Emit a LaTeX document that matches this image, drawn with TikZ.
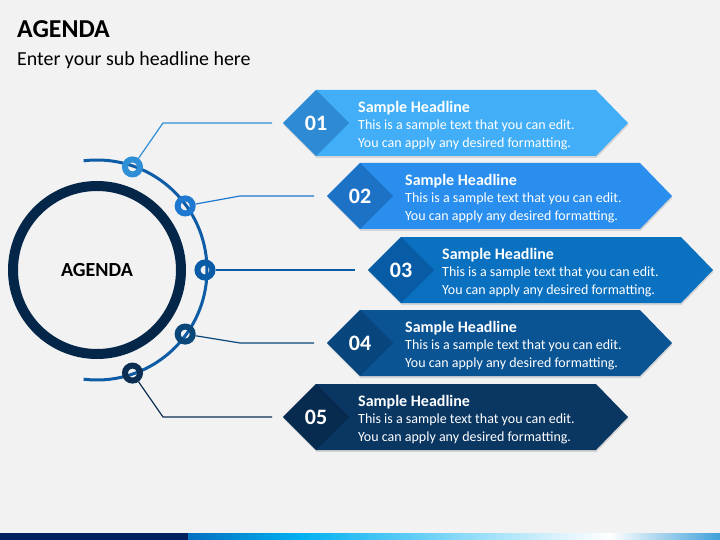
\documentclass[tikz,border=0pt]{standalone}
\usepackage{fontspec}
\setmainfont{Carlito}
\usetikzlibrary{shapes.geometric,shadows}
\definecolor{bgc}{HTML}{F2F2F2}
\definecolor{navy}{HTML}{032649}
\definecolor{arcc}{HTML}{0E5CA6}
\definecolor{ca}{HTML}{42AEF7}\definecolor{da}{HTML}{2E8BD3}\definecolor{ra}{HTML}{2E8FD6}
\definecolor{cb}{HTML}{2A8EEE}\definecolor{db}{HTML}{1E72C6}\definecolor{rb}{HTML}{1E78D0}
\definecolor{cc}{HTML}{0A70C0}\definecolor{dc}{HTML}{085CA6}\definecolor{rc}{HTML}{0A5CA6}
\definecolor{cd}{HTML}{0B5494}\definecolor{dd}{HTML}{08457D}\definecolor{rd}{HTML}{0A4678}
\definecolor{ce}{HTML}{0A3662}\definecolor{de}{HTML}{072A4F}\definecolor{re}{HTML}{0B2E52}
\definecolor{bara}{HTML}{002060}\definecolor{barb}{HTML}{0070C0}\definecolor{barc}{HTML}{00B0F0}
\definecolor{bard}{HTML}{DDF3FD}\definecolor{bare}{HTML}{3FA0DA}
\tikzset{
  ringnode/.style={circle, draw=#1, line width=6pt, minimum size=15pt, inner sep=0pt},
  numbox/.style={diamond, fill=#1, minimum size=66pt, inner sep=0pt, outer sep=0pt, text=white, font=\fontsize{22}{22}\selectfont\bfseries},
  banner/.style={fill=#1, drop shadow={opacity=0.25, shadow xshift=0.5pt, shadow yshift=-2pt}},
  link/.style={draw=#1, line width=1.2pt},
  bodytext/.style={anchor=west, align=left, text=white, inner sep=0pt, font=\fontsize{14}{17.5}\selectfont},
}
\begin{document}
\begin{tikzpicture}[x=1pt,y=-1pt]
\useasboundingbox (0,0) rectangle (720,540);
\fill[bgc] (0,0) rectangle (720,540);
% title
\node[anchor=base west, inner sep=0, font=\fontsize{25.8}{26}\selectfont\bfseries] (title) at (17,38) {AGENDA};
\node[anchor=base west, inner sep=0, font=\fontsize{19.9}{20}\selectfont] (sub) at (17,66) {Enter your sub headline here};
% big circle
\coordinate (c) at (97,270);
\draw[navy, line width=10pt] (c) circle[radius=84];
\node[font=\fontsize{20}{20}\selectfont\bfseries] (ag) at (c) {AGENDA};
% arc
\draw[arcc, line width=3pt] (c) ++(-97:110) arc[start angle=-97, end angle=97, radius=110];
% ring nodes
\node[ringnode=ra] (n1) at ([shift={(-71:109)}]c) {};
\node[ringnode=rb] (n2) at ([shift={(-36:109)}]c) {};
\node[ringnode=rc] (n3) at ([shift={(0:108)}]c) {};
\node[ringnode=rd] (n4) at ([shift={(36:109)}]c) {};
\node[ringnode=re] (n5) at ([shift={(71:109)}]c) {};
% banners
\foreach \i/\L/\Y/\bc/\dc/\num/\tx in {1/283/123/ca/da/01/358, 2/327/196/cb/db/02/405, 3/368/270/cc/dc/03/442, 4/327/343/cd/dd/04/405, 5/283/417/ce/de/05/358}{
  \path[banner=\bc] (\L,\Y) -- (\L+33,\Y-33) -- (\L+313,\Y-33) -- (\L+345,\Y) -- (\L+313,\Y+33) -- (\L+33,\Y+33) -- cycle;
  \node[numbox=\dc] (d\i) at (\L+33,\Y) {\num};
  \node[bodytext] (t\i) at (\tx,\Y+2.5) {{\fontsize{16}{17.5}\selectfont\bfseries Sample Headline}\\This is a sample text that you can edit.\\You can apply any desired formatting.};
}
% connectors
\coordinate (k1) at (163,123);
\coordinate (k2) at (240,196);
\coordinate (k4) at (240,343);
\coordinate (k5) at (163,417);
\draw[link=ra, shorten >=11pt] (n1) -- (k1) -- (d1.west);
\draw[link=rb, shorten >=13pt] (n2) -- (k2) -- (d2.west);
\draw[link=rc, shorten >=13pt] (n3) -- (d3.west);
\draw[link=rd, shorten >=13pt] (n4) -- (k4) -- (d4.west);
\draw[link=re, shorten >=11pt] (n5) -- (k5) -- (d5.west);
% bottom bar
\fill[bara] (0,533) rectangle (188,540);
\shade[left color=barb, right color=barc] (188,533) rectangle (300,540);
\shade[left color=barc, right color=bard] (300,533) rectangle (560,540);
\shade[left color=bard, right color=white] (560,533) rectangle (610,540);
\shade[left color=white, right color=bare] (610,533) rectangle (720,540);
\end{tikzpicture}
\end{document}
